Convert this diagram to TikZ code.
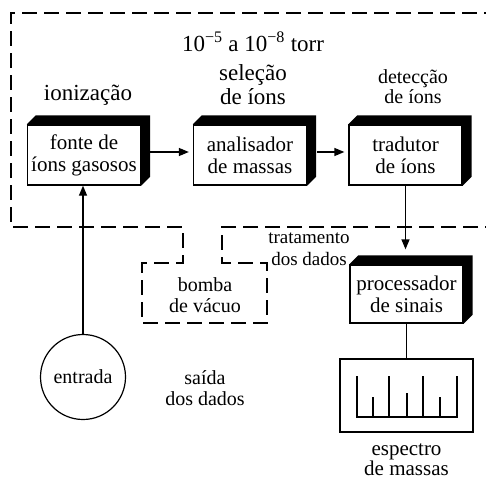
\documentclass[tikz,border=0pt]{standalone}
\usepackage{fontspec}
\setmainfont{Liberation Serif}
\usetikzlibrary{arrows.meta, positioning}

\newcommand{\fsz}[2]{\fontsize{#1bp}{#2bp}\selectfont}

\begin{document}
\begin{tikzpicture}[x=1bp, y=-1bp,
    caixa/.style={draw, line width=1.3bp, fill=white, minimum width=113bp, minimum height=60bp, inner sep=0pt, align=center, font=\fsz{21}{22}},
    rotulo/.style={align=center, inner sep=0pt},
    seta/.style={line width=1.3bp, -{Triangle[length=10bp, width=8bp]}},
    vacuo/.style={dash pattern=on 15bp off 7bp, line width=1.6bp}]
    \clip (0,0) rectangle (486,479);

    % Vacuum region
    \draw[vacuo] (500,227) -- (222,227) -- (222,263) -- (267,263) -- (267,323) -- (142,323) -- (142,263) -- (183,263) -- (183,227) -- (11,227) -- (11,13) -- (500,13);

    % Instrument blocks
    \node[caixa] (fonte) at (84,155) {fonte de\\íons gasosos};
    \node[caixa] (anal) at (250,155) {analisador\\de massas};
    \node[caixa] (trad) at (405.5,155) {tradutor\\de íons};
    \node[caixa, minimum height=58bp] (proc) at (406.5,294) {processador\\de sinais};

    % Black sides
    \def\prof{9}
    \foreach \n in {fonte,anal,trad,proc} {
        \fill (\n.north west) -- ++(\prof,-\prof) -- ([shift={(\prof,-\prof)}]\n.north east) -- ([shift={(\prof,-\prof)}]\n.south east) -- (\n.south east) -- (\n.north east) -- cycle;
    }

    % Inlet and spectrum
    \node[draw, circle, line width=1.2bp, minimum size=85bp, inner sep=0pt, font=\fsz{20}{21}] (entrada) at (83,377) {entrada};
    \node[draw, line width=1.3bp, minimum width=133bp, minimum height=73bp] (espec) at (406.5,395.5) {};

    % Peaks
    \draw[line width=2bp] ([shift={(-50,-19.5)}]espec.center) -- ([shift={(-50,21.5)}]espec.center) -- ([shift={(50,21.5)}]espec.center) -- ([shift={(50,-19.5)}]espec.center);
    \foreach \x/\t in {-33.5/1.5, -17.5/-19.5, 0/-2.5, 16.5/-19.5, 33.5/1.5} {
        \draw[line width=2bp] ([shift={(\x,\t)}]espec.center) -- ([shift={(\x,21.5)}]espec.center);
    }

    % Connectors
    \draw[seta, shorten <=7bp, shorten >=4bp] ([yshift=3bp]fonte.east) -- ([yshift=3bp]anal.west);
    \draw[seta, shorten <=10bp, shorten >=4bp] ([yshift=3bp]anal.east) -- ([yshift=3bp]trad.west);
    \draw[seta, shorten >=15bp] (trad.south) -- (trad.south |- proc.north);
    \draw[seta] (entrada.north) -- (entrada.north |- fonte.south);
    \draw[line width=1.3bp] (proc.south) -- (proc.south |- espec.north);

    % Labels
    \node[rotulo, font=\fsz{23}{24}] (pressao) at (253,42) {10\textsuperscript{−5} a 10\textsuperscript{−8} torr};
    \node[rotulo, font=\fsz{23}{24}] (ioniz) at (88,95) {ionização};
    \node[rotulo, font=\fsz{23}{24}] (selec) at (253,85) {seleção\\de íons};
    \node[rotulo, font=\fsz{20}{20}] (detec) at (413,87) {detecção\\de íons};
    \node[rotulo, font=\fsz{19}{22}] (trat) at (309,249) {tratamento\\dos dados};
    \node[rotulo, font=\fsz{20}{21}] (bomba) at (205,295) {bomba\\de vácuo};
    \node[rotulo, font=\fsz{20}{21}] (saida) at (205,388) {saída\\dos dados};
    \node[rotulo, font=\fsz{21}{20}] (nome) at (406.5,460) {espectro\\de massas};
\end{tikzpicture}
\end{document}
